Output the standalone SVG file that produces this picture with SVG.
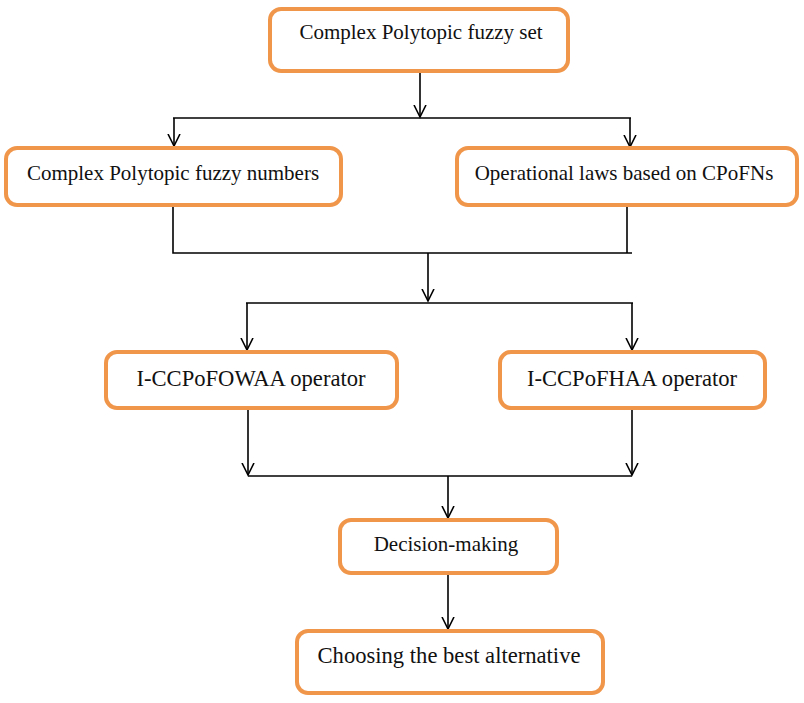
<svg xmlns="http://www.w3.org/2000/svg" width="804" height="703" viewBox="0 0 804 703">
<style>
.box{fill:#fff;stroke:#F0964B;stroke-width:4;}
.lbl{font-family:"Liberation Serif","Times New Roman",serif;font-size:21px;fill:#111;text-anchor:middle;}
.big{font-size:22.6px;}
.ln{fill:none;stroke:#000;stroke-width:1.6;}
</style>
<defs>
<marker id="ah" markerWidth="14" markerHeight="14" refX="12" refY="7" orient="auto" markerUnits="userSpaceOnUse">
<path d="M0,1 L12,7 L0,13" fill="none" stroke="#000" stroke-width="1.6"/>
</marker>
</defs>
<rect width="804" height="703" fill="#fff"/>
<g id="connectors">
<line class="ln" x1="420" y1="71" x2="420" y2="117" marker-end="url(#ah)"/>
<line class="ln" x1="173" y1="118" x2="631" y2="118"/>
<line class="ln" x1="174" y1="118" x2="174" y2="146" marker-end="url(#ah)"/>
<line class="ln" x1="630" y1="118" x2="630" y2="147" marker-end="url(#ah)"/>
<polyline class="ln" points="173,205 173,253 632,253"/>
<line class="ln" x1="627" y1="205" x2="627" y2="253"/>
<line class="ln" x1="428" y1="253" x2="428" y2="301" marker-end="url(#ah)"/>
<line class="ln" x1="246" y1="303" x2="633" y2="303"/>
<line class="ln" x1="247" y1="303" x2="247" y2="350" marker-end="url(#ah)"/>
<line class="ln" x1="632" y1="303" x2="632" y2="350" marker-end="url(#ah)"/>
<line class="ln" x1="248" y1="408" x2="248" y2="475" marker-end="url(#ah)"/>
<line class="ln" x1="632" y1="408" x2="632" y2="475" marker-end="url(#ah)"/>
<line class="ln" x1="248" y1="476" x2="632" y2="476"/>
<line class="ln" x1="448" y1="476" x2="448" y2="518" marker-end="url(#ah)"/>
<line class="ln" x1="448" y1="573" x2="448" y2="629" marker-end="url(#ah)"/>
</g>
<g id="n1"><rect class="box" x="270" y="9" width="298" height="62" rx="11"/><text class="lbl" x="421" y="39">Complex Polytopic fuzzy set</text></g>
<g id="n2"><rect class="box" x="6" y="148" width="335" height="57" rx="11"/><text class="lbl" x="173" y="180">Complex Polytopic fuzzy numbers</text></g>
<g id="n3"><rect class="box" x="457" y="148" width="340" height="57" rx="11"/><text class="lbl" x="624" y="180">Operational laws based on CPoFNs</text></g>
<g id="n4"><rect class="box" x="106" y="352" width="291" height="56" rx="11"/><text class="lbl big" x="251" y="386">I-CCPoFOWAA operator</text></g>
<g id="n5"><rect class="box" x="500" y="352" width="265" height="56" rx="11"/><text class="lbl big" x="632" y="386">I-CCPoFHAA operator</text></g>
<g id="n6"><rect class="box" x="340" y="520" width="217" height="53" rx="11"/><text class="lbl" x="446" y="551">Decision-making</text></g>
<g id="n7"><rect class="box" x="297" y="631" width="306" height="62" rx="11"/><text class="lbl big" x="449" y="663">Choosing the best alternative</text></g>
</svg>
